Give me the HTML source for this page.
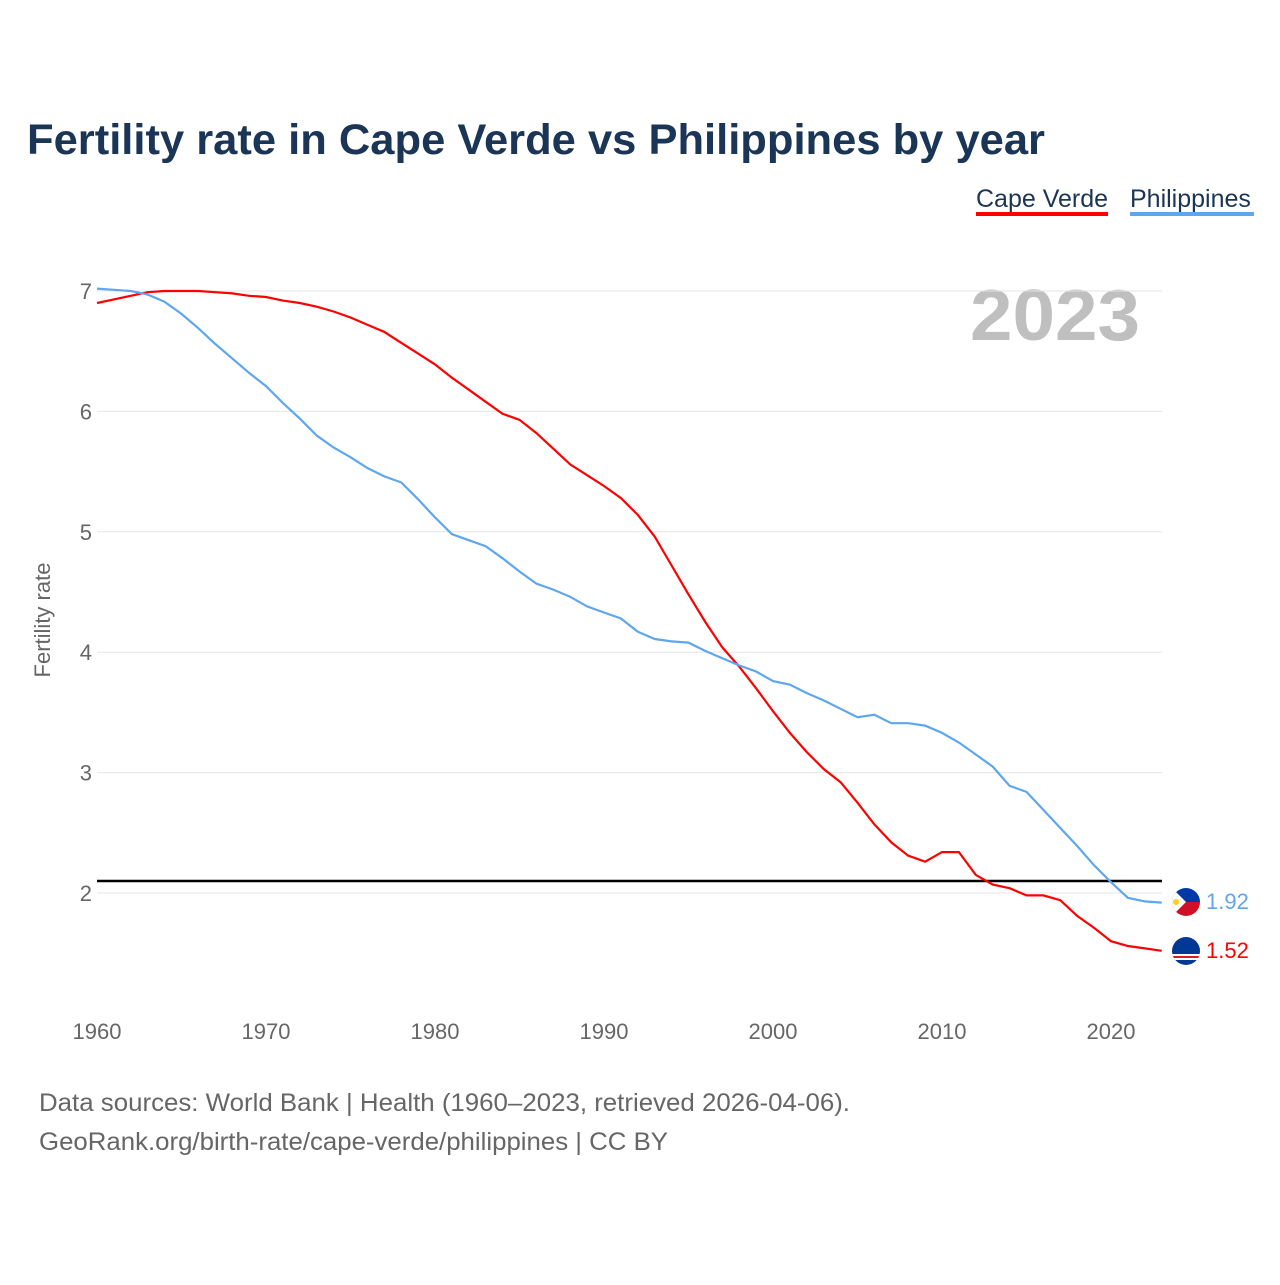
<!DOCTYPE html>
<html><head><meta charset="utf-8"><style>
body{margin:0;background:#fff;width:1280px;height:1280px;overflow:hidden;font-family:"Liberation Sans",sans-serif}
</style></head><body>
<svg width="1280" height="1280" xmlns="http://www.w3.org/2000/svg" font-family="Liberation Sans, sans-serif">
<text x="27" y="154" font-size="43" font-weight="bold" fill="#1b3556" textLength="1018" lengthAdjust="spacingAndGlyphs">Fertility rate in Cape Verde vs Philippines by year</text>
<g>
<text x="976" y="207" font-size="25" fill="#1b3556">Cape Verde</text>
<rect x="976" y="212" width="132" height="4" fill="#ff0000"/>
<text x="1130" y="207" font-size="25" fill="#1b3556">Philippines</text>
<rect x="1130" y="212" width="124" height="4" fill="#5ea6ee"/>
</g>
<text x="970" y="340" font-size="72" font-weight="bold" fill="#bfbfbf" textLength="170" lengthAdjust="spacingAndGlyphs">2023</text>
<g id="grid"></g>
<g id="yt"></g>
<g id="xt"></g>
<text transform="translate(50,620) rotate(-90)" font-size="22" fill="#666" text-anchor="middle">Fertility rate</text>
<line id="ref" stroke="#000" stroke-width="2.5"/>
<path id="cv" fill="none" stroke="#ff0000" stroke-width="2.2"/>
<path id="ph" fill="none" stroke="#5ea6ee" stroke-width="2.2"/>
<g>
<clipPath id="c1"><circle cx="1186" cy="902" r="14"/></clipPath>
<g clip-path="url(#c1)"><rect x="1170" y="886" width="32" height="16" fill="#0038a8"/><rect x="1170" y="902" width="32" height="16" fill="#ce1126"/><polygon points="1170,886 1170,918 1186,902" fill="#fff"/><circle cx="1176" cy="902" r="3" fill="#fcd116"/></g>
</g>
<g>
<clipPath id="c2"><circle cx="1186" cy="951" r="14"/></clipPath>
<g clip-path="url(#c2)"><rect x="1170" y="935" width="32" height="32" fill="#003893"/><rect x="1170" y="954" width="32" height="6" fill="#fff"/><rect x="1170" y="956" width="32" height="2" fill="#cf2027"/></g>
</g>
<text x="1206" y="909" font-size="22" fill="#5ea6ee">1.92</text>
<text x="1206" y="958" font-size="22" fill="#ff0000">1.52</text>
<text x="39" y="1111" font-size="25" fill="#666" textLength="811" lengthAdjust="spacingAndGlyphs">Data sources: World Bank | Health (1960–2023, retrieved 2026-04-06).</text>
<text x="39" y="1150" font-size="25" fill="#666" textLength="629" lengthAdjust="spacingAndGlyphs">GeoRank.org/birth-rate/cape-verde/philippines | CC BY</text>
</svg>
<script>
const years=[];for(let y=1960;y<=2023;y++)years.push(y);
const capeVerde=[6.90,6.93,6.96,6.99,7.00,7.00,7.00,6.99,6.98,6.96,6.95,6.92,6.90,6.87,6.83,6.78,6.72,6.66,6.57,6.48,6.39,6.28,6.18,6.08,5.98,5.93,5.82,5.69,5.56,5.47,5.38,5.28,5.14,4.96,4.72,4.48,4.25,4.04,3.88,3.70,3.51,3.33,3.17,3.03,2.92,2.75,2.57,2.42,2.31,2.26,2.34,2.34,2.15,2.07,2.04,1.98,1.98,1.94,1.81,1.71,1.60,1.56,1.54,1.52];
const philippines=[7.02,7.01,7.00,6.97,6.91,6.81,6.69,6.56,6.44,6.32,6.21,6.07,5.94,5.80,5.70,5.62,5.53,5.46,5.41,5.27,5.12,4.98,4.93,4.88,4.78,4.67,4.57,4.52,4.46,4.38,4.33,4.28,4.17,4.11,4.09,4.08,4.01,3.95,3.89,3.84,3.76,3.73,3.66,3.60,3.53,3.46,3.48,3.41,3.41,3.39,3.33,3.25,3.15,3.05,2.89,2.84,2.69,2.54,2.39,2.23,2.09,1.96,1.93,1.92];
const yTicks=[2,3,4,5,6,7];
const xTicks=[1960,1970,1980,1990,2000,2010,2020];
const replacement=2.1;
const X=y=>97+(y-1960)*(1014/60);
const Y=v=>893-(v-2)*120.4;
const ns="http://www.w3.org/2000/svg";
const grid=document.getElementById('grid'),yt=document.getElementById('yt'),xt=document.getElementById('xt');
yTicks.forEach(t=>{
 const l=document.createElementNS(ns,'line');
 l.setAttribute('x1',97);l.setAttribute('x2',1162);l.setAttribute('y1',Y(t));l.setAttribute('y2',Y(t));
 l.setAttribute('stroke','#e6e6e6');l.setAttribute('stroke-width','1');
 
 
 grid.appendChild(l);
 const tx=document.createElementNS(ns,'text');
 tx.setAttribute('x',92);tx.setAttribute('y',Y(t)+8);tx.setAttribute('text-anchor','end');
 tx.setAttribute('font-size','22');tx.setAttribute('fill','#666');tx.textContent=t;
 
 
 yt.appendChild(tx);
});
xTicks.forEach(t=>{
 const tx=document.createElementNS(ns,'text');
 tx.setAttribute('x',X(t));tx.setAttribute('y',1039);tx.setAttribute('text-anchor','middle');
 tx.setAttribute('font-size','22');tx.setAttribute('fill','#666');tx.textContent=t;
 
 
 xt.appendChild(tx);
});
const r=document.getElementById('ref');
r.setAttribute('x1',97);r.setAttribute('x2',1162);r.setAttribute('y1',Y(replacement));r.setAttribute('y2',Y(replacement));
const path=a=>a.map((v,i)=>(i?'L':'M')+X(years[i]).toFixed(1)+','+Y(v).toFixed(1)).join('');
document.getElementById('cv').setAttribute('d',path(capeVerde));
document.getElementById('ph').setAttribute('d',path(philippines));
</script>
</body></html>
